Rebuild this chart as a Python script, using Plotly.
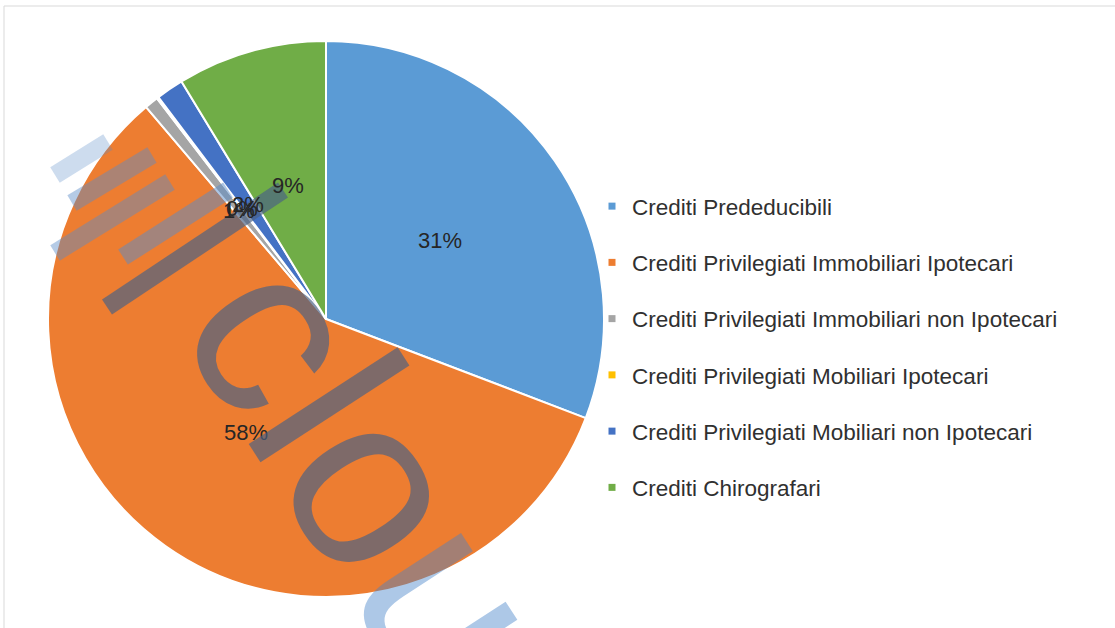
import math
import plotly.graph_objects as go

# ---- data ----
categories = [
    "Crediti Prededucibili",
    "Crediti Privilegiati Immobiliari Ipotecari",
    "Crediti Privilegiati Immobiliari non Ipotecari",
    "Crediti Privilegiati Mobiliari Ipotecari",
    "Crediti Privilegiati Mobiliari non Ipotecari",
    "Crediti Chirografari",
]
shares = [30.8, 58.0, 0.8, 0.1, 1.6, 8.7]
colors = ["#5B9BD5", "#ED7D31", "#A5A5A5", "#FFC000", "#4472C4", "#70AD47"]

# ---- geometry ----
W, H = 1115, 628
CX, CY, R = 326, 319, 278
dom_x = [(CX - R) / W, (CX + R) / W]
dom_y = [1 - (CY + R) / H, 1 - (CY - R) / H]

fig = go.Figure()
fig.add_trace(go.Pie(
    labels=categories, values=shares, sort=False, direction="clockwise",
    rotation=0, domain=dict(x=dom_x, y=dom_y),
    marker=dict(colors=colors, line=dict(color="white", width=2)),
    textinfo="none", showlegend=False, hoverinfo="label+percent",
))

# legend entries
for lab, col in zip(categories, colors):
    fig.add_trace(go.Scatter(
        x=[None], y=[None], mode="markers", name=lab, legendgroup=lab,
        marker=dict(symbol="square", size=7, color=col), showlegend=True,
    ))

# percentage labels placed along slice bisectors at half radius
total = sum(shares)
annotations = []
cum = 0.0
for v in shares:
    mid = (cum + v / 2) / total * 2 * math.pi
    cum += v
    px = CX + 0.5 * R * math.sin(mid)
    py = CY - 0.5 * R * math.cos(mid)
    annotations.append(dict(
        x=px / W, y=1 - py / H, xref="paper", yref="paper",
        text=f"{round(v / total * 100):d}%", showarrow=False,
        font=dict(family="Liberation Sans, Arial", size=22, color="#262626"),
        xanchor="center", yanchor="middle",
    ))

# watermark (decorative overlay)
annotations.append(dict(
    x=404 / W, y=1 - 527 / H, xref="paper", yref="paper",
    text="clo<span style='color:rgba(70,130,200,0.65)'>ud</span>",
    showarrow=False, textangle=57,
    font=dict(family="Liberation Sans, Arial", size=245, color="rgba(73,98,133,0.68)"),
    xanchor="center", yanchor="middle",
))

wm_bars = [
    ((55, 175), (108, 142), "rgba(90,140,200,0.3)"),
    ((72, 203), (152, 155), "rgba(90,140,200,0.45)"),
    ((55, 253), (170, 182), "rgba(90,140,200,0.45)"),
    ((123, 257), (228, 190), "rgba(90,140,200,0.5)"),
    ((107, 307), (283, 190), "rgba(73,98,133,0.68)"),
]
shapes = [dict(type="rect", xref="paper", yref="paper",
               x0=4 / W, x1=1.05, y0=-0.05, y1=1 - 6 / H,
               line=dict(color="#D9D9D9", width=1))]
for (x0, y0), (x1, y1), c in wm_bars:
    shapes.append(dict(type="line", xref="paper", yref="paper",
                       x0=x0 / W, y0=1 - y0 / H, x1=x1 / W, y1=1 - y1 / H,
                       line=dict(color=c, width=18)))

fig.update_layout(
    width=W, height=H, margin=dict(l=0, r=0, t=0, b=0),
    paper_bgcolor="white", plot_bgcolor="white",
    xaxis=dict(visible=False), yaxis=dict(visible=False),
    legend=dict(
        x=592 / W, xanchor="left", y=1 - 347 / H, yanchor="middle",
        font=dict(family="Liberation Sans, Arial", size=22.5, color="#303030"),
        tracegroupgap=24, bgcolor="rgba(0,0,0,0)",
    ),
    annotations=annotations,
    shapes=shapes,
)

fig.write_html("out.html", config={"displayModeBar": False},
               post_script="document.body.style.margin='0';")
